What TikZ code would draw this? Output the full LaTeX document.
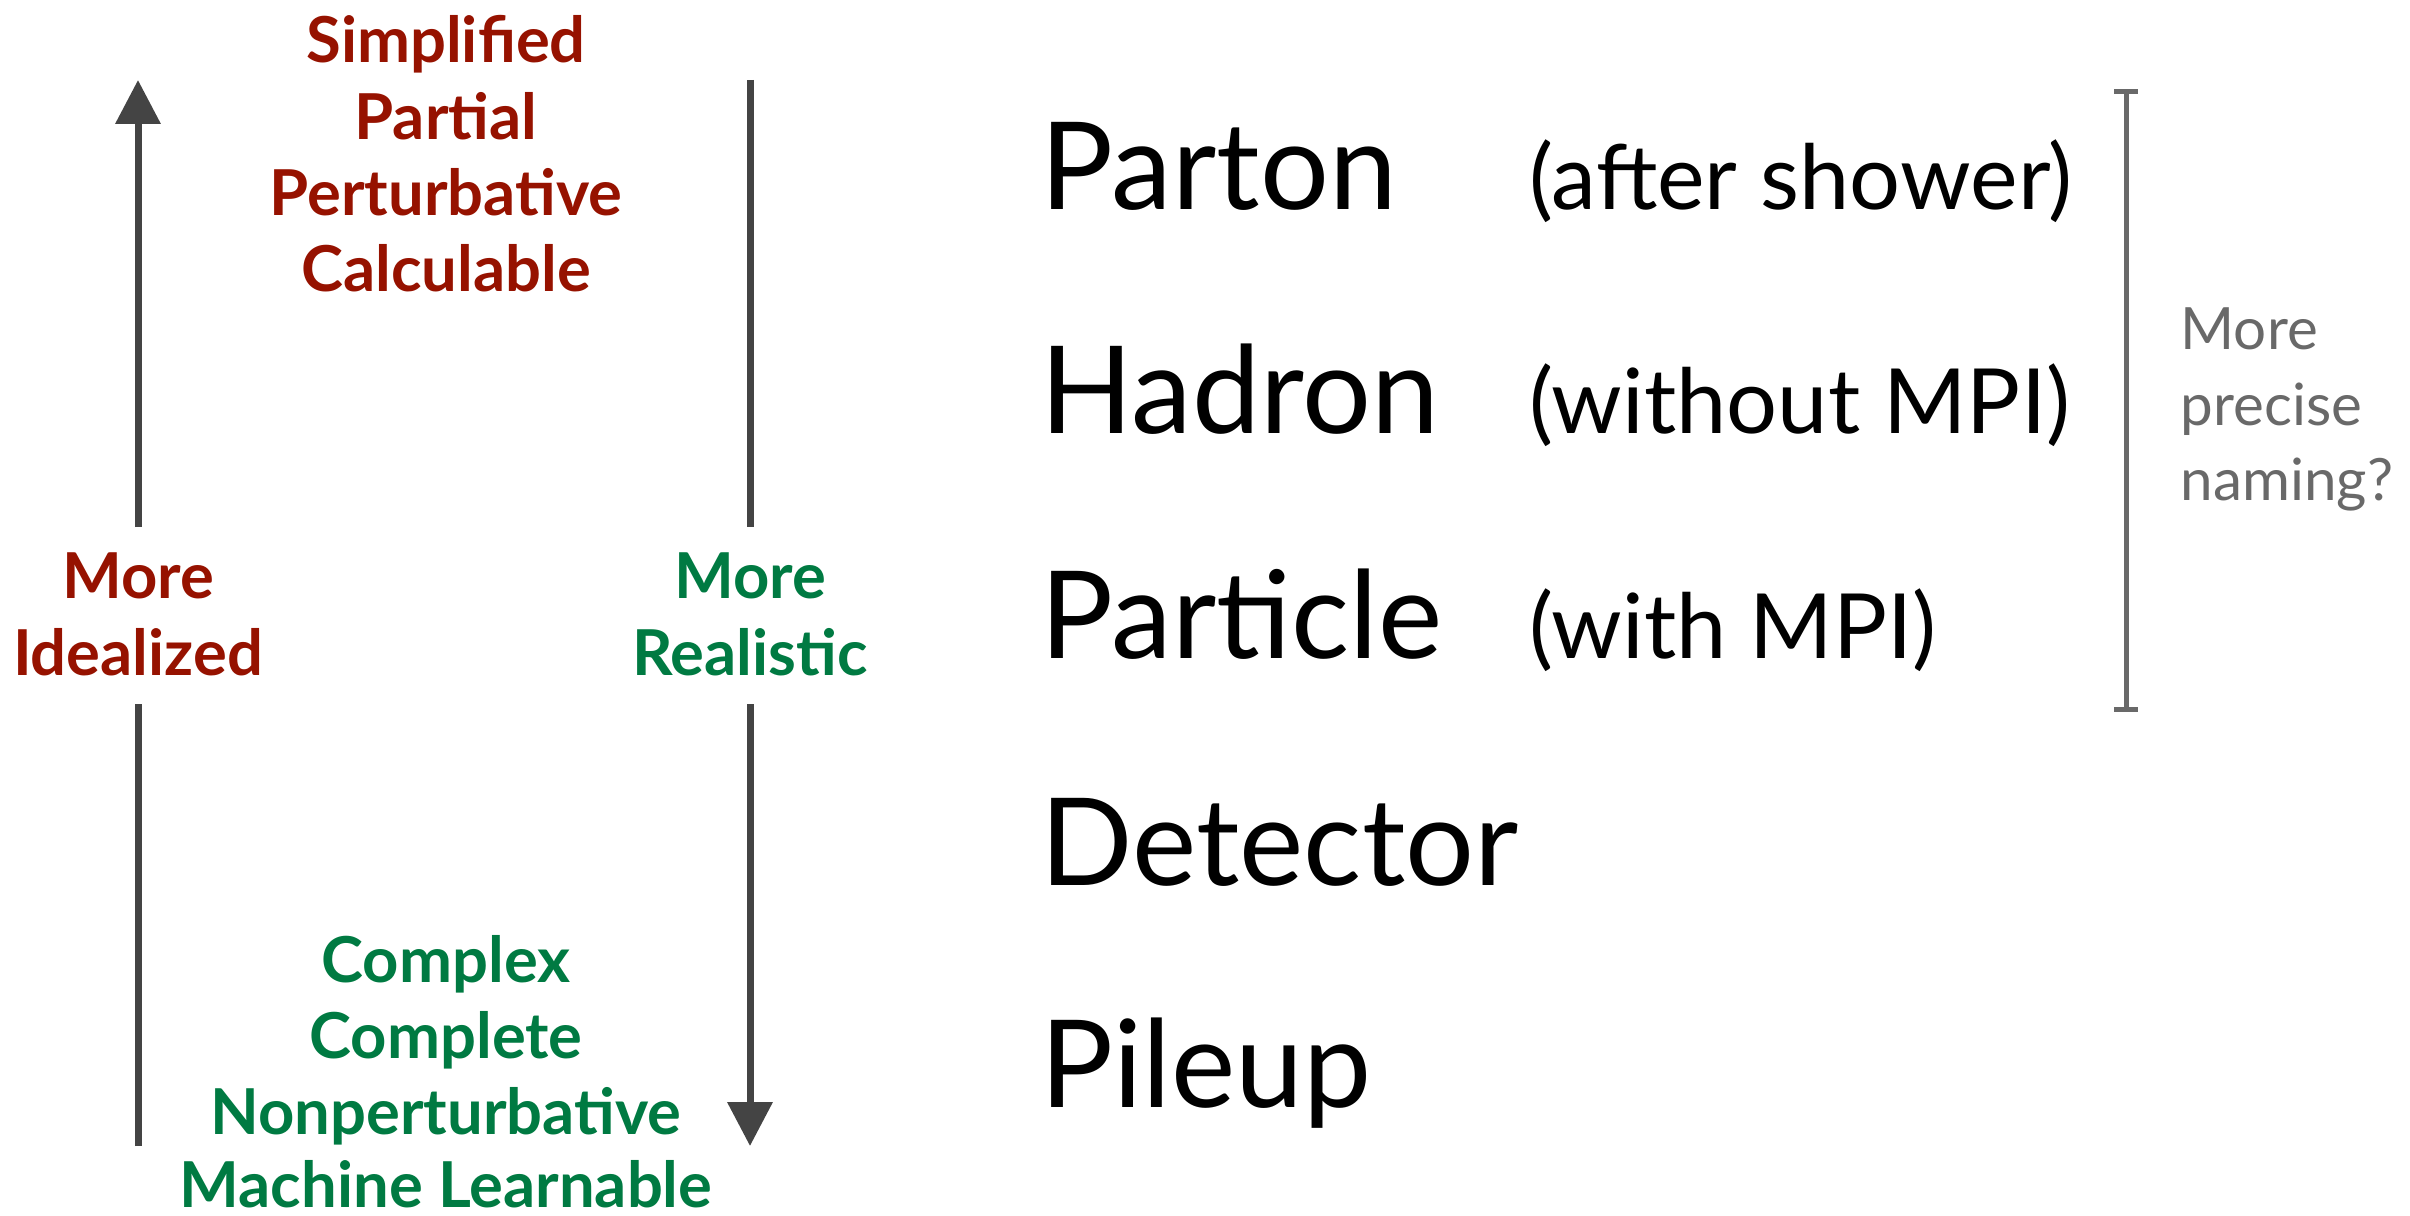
\documentclass[tikz,border=0pt]{standalone}
\usepackage{fontspec}
\setmainfont{Lato}
\usetikzlibrary{arrows.meta}
\definecolor{ired}{RGB}{150,18,0}
\definecolor{rgreen}{RGB}{0,122,66}
\definecolor{arrgray}{RGB}{68,68,68}
\definecolor{brgray}{RGB}{105,105,105}
\begin{document}
\begin{tikzpicture}[x=0.3pt,y=-0.3pt,
  lab/.style={font=\bfseries\fontsize{19}{23}\selectfont, anchor=base, inner sep=0},
  redlab/.style={lab, text=ired},
  greenlab/.style={lab, text=rgreen},
  big/.style={font=\fontsize{36.5}{44}\selectfont, anchor=base west, inner sep=0},
  paren/.style={font=\fontsize{27}{32}\selectfont, anchor=base west, inner sep=0},
  note/.style={font=\fontsize{17.5}{21}\selectfont, anchor=base west, inner sep=0, text=brgray},
  axisline/.style={line width=2.1pt, draw=arrgray},
  tipend/.style={-{Triangle[length=13.2pt,width=13.2pt]}},
  brk/.style={line width=1.5pt, draw=brgray}]
\useasboundingbox (0,0) rectangle (2410,1216);
% red labels
\node[redlab] (s1) at (446,63) {Simplified};
\node[redlab] (s2) at (446,140) {Partial};
\node[redlab] (s3) at (446,216) {Perturbative};
\node[redlab] (s4) at (446,292) {Calculable};
\node[redlab] (i1) at (138,598) {More};
\node[redlab] (i2) at (138,675) {Idealized};
% green labels
\node[greenlab] (r1) at (750,598) {More};
\node[greenlab] (r2) at (750,675) {Realistic};
\node[greenlab] (c1) at (446,982) {Complex};
\node[greenlab] (c2) at (446,1058) {Complete};
\node[greenlab] (c3) at (446,1134) {Nonperturbative};
\node[greenlab] (c4) at (446,1207) {Machine Learnable};
% arrows
\coordinate (lt) at (138,80);
\coordinate (lb1) at (138,527);
\coordinate (lb2) at (138,704);
\coordinate (lbot) at (138,1146);
\coordinate (rt) at (750,80);
\coordinate (rb1) at (750,527);
\coordinate (rb2) at (750,704);
\coordinate (rtip) at (750,1146);
\draw[axisline,tipend] (lb1) -- (lt);
\draw[axisline] (lbot) -- (lb2);
\draw[axisline] (rt) -- (rb1);
\draw[axisline,tipend] (rb2) -- (rtip);
% levels
\node[big] (parton) at (1040,210) {Parton};
\node[big] (hadron) at (1040,433) {Hadron};
\node[big] (particle) at (1040,658) {Particle};
\node[big] (detector) at (1040,885) {Detector};
\node[big] (pileup) at (1040,1107) {Pileup};
\node[paren] (p1) at (1529,210) {(after shower)};
\node[paren] (p2) at (1529,433) {(without MPI)};
\node[paren] (p3) at (1529,658) {(with MPI)};
% bracket
\coordinate (bt) at (2126,92);
\coordinate (bb) at (2126,709);
\coordinate (bt1) at (2114,92);
\coordinate (bt2) at (2138,92);
\coordinate (bb1) at (2114,709);
\coordinate (bb2) at (2138,709);
\draw[brk] (bt1) -- (bt2) (bt) -- (bb) (bb1) -- (bb2);
\node[note] (n1) at (2180,350) {More};
\node[note] (n2) at (2180,425) {precise};
\node[note] (n3) at (2180,500) {naming?};
\end{tikzpicture}
\end{document}
